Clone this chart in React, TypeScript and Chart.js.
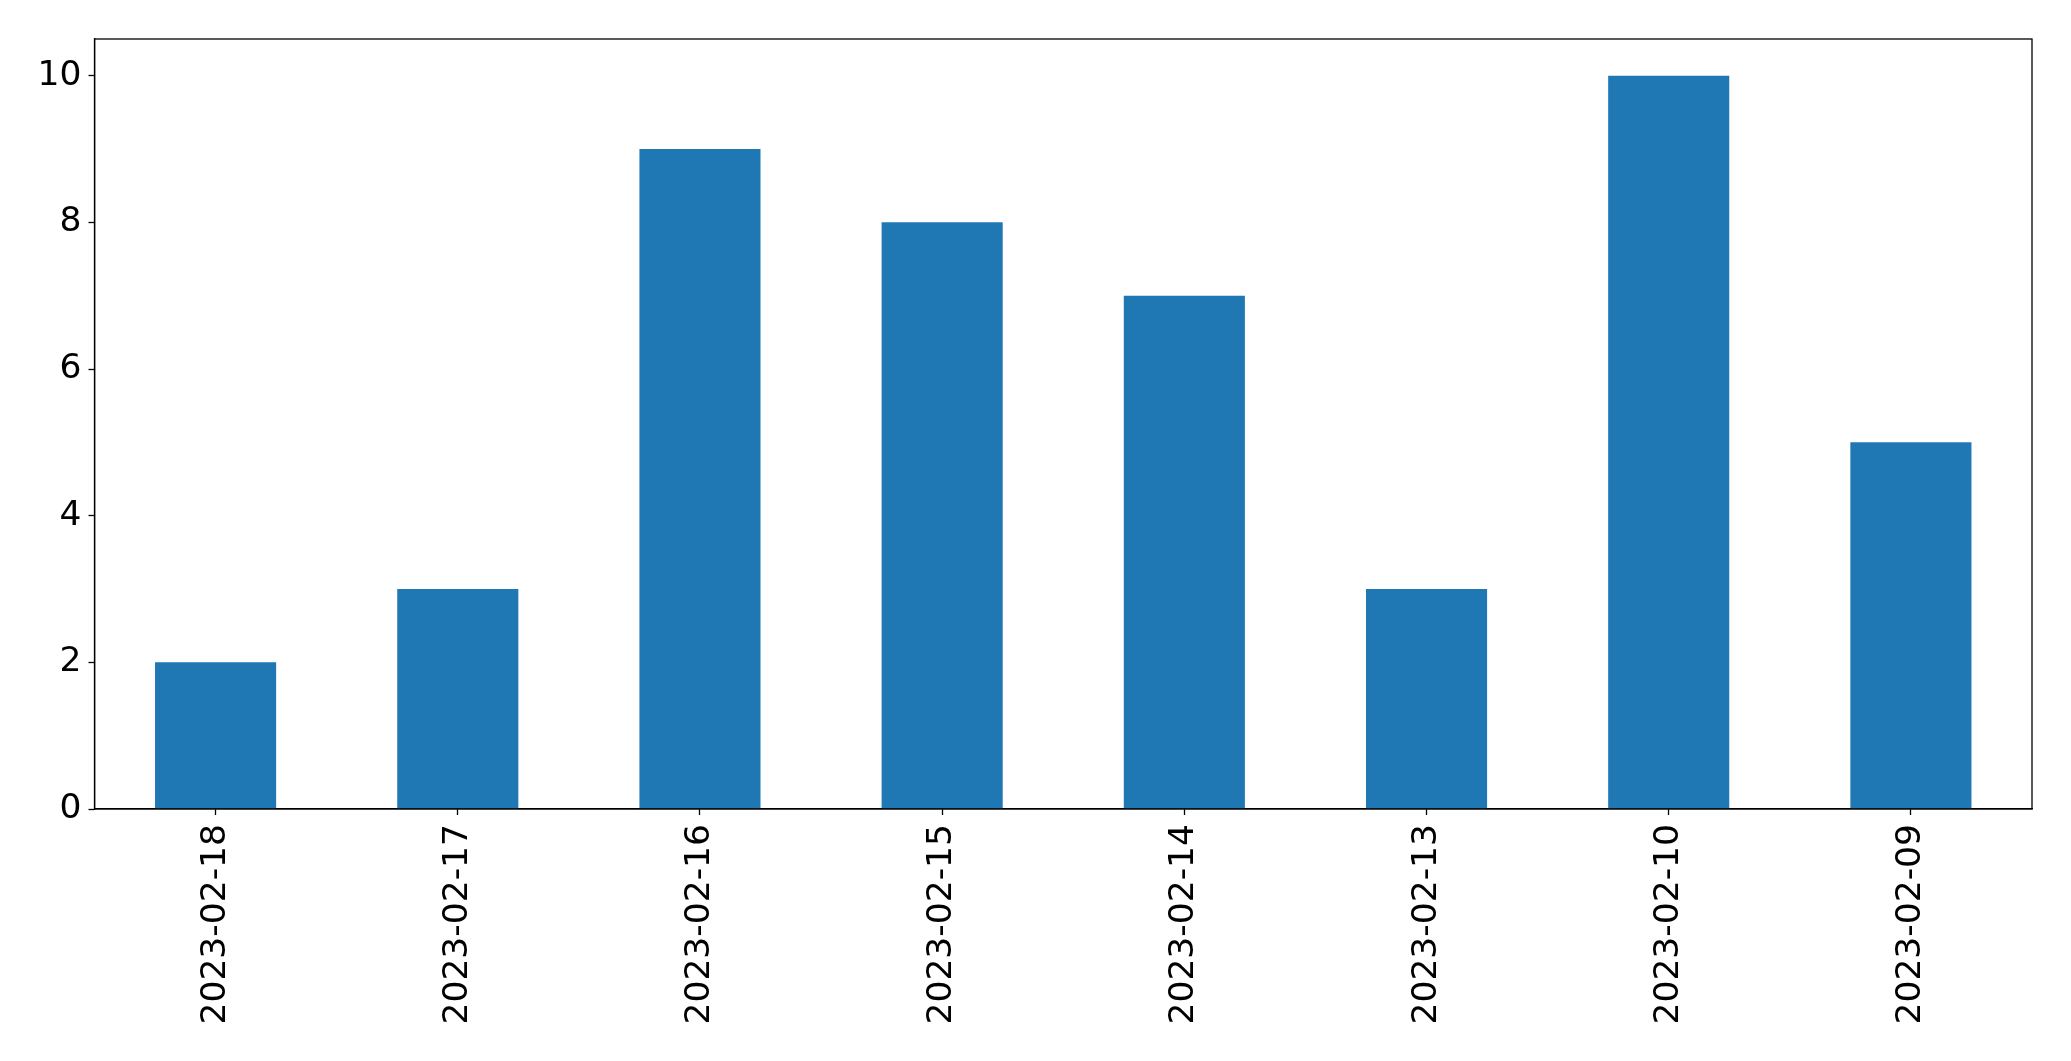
import React, { useEffect, useRef } from "react";
import { Chart, registerables } from "chart.js";

Chart.register(...registerables);

const categories = [
  "2023-02-18",
  "2023-02-17",
  "2023-02-16",
  "2023-02-15",
  "2023-02-14",
  "2023-02-13",
  "2023-02-10",
  "2023-02-09",
];
const counts = [2, 3, 9, 8, 7, 3, 10, 5];
const yTicks = [0, 2, 4, 6, 8, 10];
const yMax = 10.5;

const framePlugin = {
  id: "frame",
  afterDraw(chart: any) {
    const { ctx, chartArea } = chart;
    ctx.save();
    ctx.strokeStyle = "#000";
    ctx.lineWidth = 1.3;
    ctx.strokeRect(chartArea.left, chartArea.top, chartArea.right - chartArea.left, chartArea.bottom - chartArea.top);
    ctx.restore();
  },
};

export default function App() {
  const ref = useRef<HTMLCanvasElement | null>(null);
  useEffect(() => {
    document.body.style.margin = "0";
    const font = { family: "'DejaVu Sans', sans-serif", size: 34.5 };
    const chart = new Chart(ref.current!, {
      type: "bar",
      data: {
        labels: categories,
        datasets: [
          {
            data: counts,
            backgroundColor: "#1f77b4",
            barPercentage: 0.5,
            categoryPercentage: 1,
          },
        ],
      },
      plugins: [framePlugin],
      options: {
        animation: false,
        responsive: false,
        maintainAspectRatio: false,
        layout: { padding: { left: 0, top: 39, right: 39, bottom: 0 } },
        plugins: { legend: { display: false }, tooltip: { enabled: false } },
        scales: {
          x: {
            offset: true,
            grid: { display: true, offset: false, drawOnChartArea: false, drawTicks: true, tickLength: 6, tickColor: "#000", tickWidth: 1.3 },
            border: { display: true, color: "#000", width: 1.3 },
            ticks: { color: "#000", font, minRotation: 90, maxRotation: 90, padding: 9, autoSkip: false },
            afterFit(scale: any) {
              scale.height = 252;
            },
          },
          y: {
            min: 0,
            max: yMax,
            grid: { display: true, drawOnChartArea: false, drawTicks: true, tickLength: 6, tickColor: "#000", tickWidth: 1.3 },
            border: { display: true, color: "#000", width: 1.3 },
            ticks: { color: "#000", font, padding: 7 },
            afterBuildTicks(scale: any) {
              scale.ticks = yTicks.map((v) => ({ value: v }));
            },
            afterFit(scale: any) {
              scale.width = 94.5;
            },
          },
        },
      },
    });
    return () => chart.destroy();
  }, []);
  return (
    <div style={{ position: "absolute", left: 0, top: 0, width: 2071, height: 1061, background: "#fff" }}>
      <canvas ref={ref} width={2071} height={1061} style={{ width: 2071, height: 1061 }} />
    </div>
  );
}
